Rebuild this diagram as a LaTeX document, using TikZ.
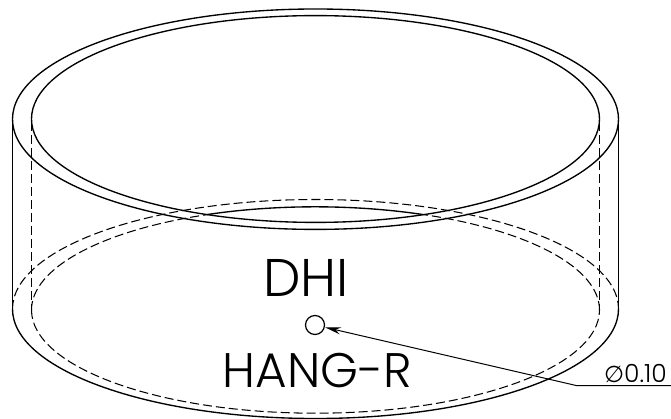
\documentclass[tikz,border=0pt]{standalone}
\usepackage{fontspec}
\setmainfont{Poppins Light}
\newfontfamily\symfont{DejaVu Sans}
\usetikzlibrary{arrows.meta}
\tikzset{
  edge/.style={line width=1.35pt,black},
  hidden/.style={line width=1.05pt,black,dash pattern=on 9pt off 4pt},
  thin leader/.style={line width=1pt,black},
  big label/.style={inner sep=0pt,font=\fontsize{53}{53}\selectfont,anchor=base},
  mid label/.style={inner sep=0pt,font=\fontsize{48.5}{48.5}\selectfont,anchor=base},
  dim label/.style={inner sep=0pt,font=\fontsize{25}{25}\selectfont,anchor=base west},
}
\begin{document}
\begin{tikzpicture}[x=1pt,y=-1pt]
\useasboundingbox (0,0) rectangle (671,419);
% top rim
\draw[edge] (315.5,119.2) ellipse [x radius=303,y radius=110.2];
\draw[edge] (315.5,119) ellipse [x radius=284,y radius=103.4];
% outer wall
\draw[edge] (12.5,119.2) -- (12.5,309);
\draw[edge] (618.5,119.2) -- (618.5,309);
% inner wall (hidden)
\draw[hidden] (31.5,122) -- (31.5,310);
\draw[hidden] (599.5,122) -- (599.5,310);
% bottom outer
\draw[edge] (12.5,309) arc [start angle=180,end angle=0,x radius=303,y radius=109.5,y=-1pt];
\draw[hidden] (12.5,309) arc [start angle=180,end angle=360,x radius=303,y radius=109.5];
% bottom inner
\draw[hidden] (31.5,310) arc [start angle=180,end angle=0,x radius=284,y radius=103.2];
\draw[hidden] (31.5,310) arc [start angle=180,end angle=247.6,x radius=284,y radius=103.2];
\draw[edge] (206.9,214.6) arc [start angle=247.6,end angle=292.4,x radius=284,y radius=103.2];
\draw[hidden] (599.5,310) arc [start angle=360,end angle=292.4,x radius=284,y radius=103.2];
% labels
\node[big label] (dhi) at (306,297) {DHI};
\node[mid label] (hang) at (317.5,387) {HANG-R};
\node[dim label] (dim) at (604,382) {{\symfont\fontsize{23}{23}\selectfont ∅}0.10};
% hole and leader
\node[draw,circle,line width=1.2pt,minimum size=19pt,inner sep=0pt] (hole) at (315,325) {};
\coordinate (bend) at (577,385.7);
\coordinate (end) at (671,385.7);
\draw[thin leader,{Stealth[length=16pt,width=7pt]}-] (hole) -- (bend) -- (end);
\end{tikzpicture}
\end{document}
